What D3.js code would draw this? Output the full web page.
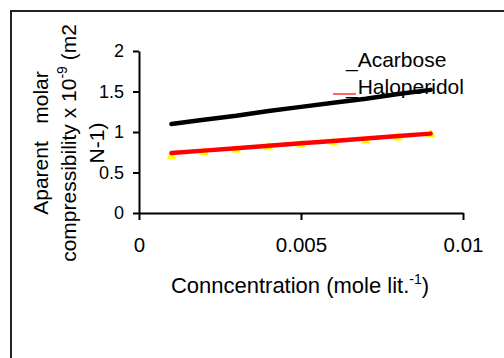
<!DOCTYPE html>
<html>
<head>
<meta charset="utf-8">
<script src="https://cdn.jsdelivr.net/npm/d3@7"></script>
<style>
    body { margin: 0; background: #fff; }
    svg { display: block; font-family: "Liberation Sans", Arial, sans-serif; }
</style>
</head>
<body>
<svg id="chart" width="504" height="358"></svg>
<script>
// values
var concentration = [0.001, 0.002, 0.003, 0.004, 0.005, 0.006, 0.007, 0.008, 0.009];
var acarbose = [1.10, 1.15, 1.20, 1.26, 1.31, 1.36, 1.41, 1.47, 1.52];
var haloperidol = [0.74, 0.77, 0.80, 0.83, 0.86, 0.89, 0.92, 0.95, 0.98];
var haloMarkers = [0.70, 0.75, 0.78, 0.81, 0.84, 0.87, 0.89, 0.93, 0.97];
var xTicks = [0, 0.005, 0.01];
var yTicks = [0, 0.5, 1, 1.5, 2];
var seriesNames = ["Acarbose", "Haloperidol"];

var svg = d3.select("#chart");

// outer frame (runs off the right and bottom edges)
svg.append("rect")
    .attr("x", 11).attr("y", 11)
    .attr("width", 500).attr("height", 400)
    .attr("fill", "none")
    .attr("stroke", "#222")
    .attr("stroke-width", 2);

var x = d3.scaleLinear().domain([0, 0.01]).range([139, 463]);
var y = d3.scaleLinear().domain([0, 2]).range([213, 51]);

var xAxis = svg.append("g")
    .attr("transform", "translate(0," + y(0) + ")")
    .call(d3.axisBottom(x).tickValues(xTicks).tickSize(7).tickSizeOuter(0).tickPadding(17)
        .tickFormat(function (d) { return String(d); }));

var yAxis = svg.append("g")
    .attr("transform", "translate(" + x(0) + ",0)")
    .call(d3.axisLeft(y).tickValues(yTicks).tickSize(6).tickSizeOuter(0).tickPadding(9)
        .tickFormat(function (d) { return String(d); }));

xAxis.selectAll("path, line").attr("stroke", "#000").attr("stroke-width", 2);
yAxis.selectAll("path, line").attr("stroke", "#000").attr("stroke-width", 2);
xAxis.selectAll("text").attr("font-size", 20.5).attr("fill", "#000").attr("font-family", null);
yAxis.selectAll("text").attr("font-size", 18).attr("fill", "#000").attr("font-family", null);

// x axis title
var xt = svg.append("text")
    .attr("x", 300).attr("y", 293)
    .attr("text-anchor", "middle")
    .attr("font-size", 22)
    .attr("fill", "#000");
xt.append("tspan").text("Conncentration (mole lit.");
xt.append("tspan").attr("dy", -9).attr("font-size", 14).text("-1");
xt.append("tspan").attr("dy", 9).text(")");

// y axis title, three rotated lines
var yTitle = svg.append("g")
    .attr("transform", "translate(0,143) rotate(-90)")
    .attr("font-size", 21)
    .attr("fill", "#000")
    .attr("text-anchor", "middle");

yTitle.append("text")
    .attr("x", 0).attr("y", 48)
    .attr("xml:space", "preserve")
    .style("white-space", "pre")
    .text("Aparent   molar");

var l2 = yTitle.append("text").attr("x", 0).attr("y", 76);
l2.append("tspan").text("compressibility x 10");
l2.append("tspan").attr("dy", -9).attr("font-size", 14).text("-9");
l2.append("tspan").attr("dy", 9).text(" (m2");

yTitle.append("text")
    .attr("x", 0).attr("y", 104)
    .text("N-1)");

// legend
var legend = svg.append("g").attr("font-size", 21).attr("fill", "#000");
legend.selectAll("text")
    .data(seriesNames)
    .enter().append("text")
    .attr("x", 346)
    .attr("y", function (d, i) { return 67 + i * 27; })
    .text(function (d) { return "_" + d; });

legend.append("line")
    .attr("x1", 333).attr("x2", 356)
    .attr("y1", 94).attr("y2", 94)
    .attr("stroke", "#ff0000")
    .attr("stroke-width", 1.2);

// haloperidol markers sit under the line
var tri = d3.symbol().type(d3.symbolTriangle).size(42);
svg.append("g").selectAll("path")
    .data(concentration)
    .enter().append("path")
    .attr("d", tri)
    .attr("transform", function (d, i) {
        return "translate(" + x(d) + "," + y(haloMarkers[i]) + ")";
    })
    .attr("fill", "#ffff00");

var line = d3.line()
    .x(function (d) { return x(d[0]); })
    .y(function (d) { return y(d[1]); });

svg.append("path")
    .datum(d3.zip(concentration, haloperidol))
    .attr("d", line)
    .attr("fill", "none")
    .attr("stroke", "#ff0000")
    .attr("stroke-width", 4.5)
    .attr("stroke-linecap", "round");

svg.append("path")
    .datum(d3.zip(concentration, acarbose))
    .attr("d", line)
    .attr("fill", "none")
    .attr("stroke", "#000")
    .attr("stroke-width", 4.5)
    .attr("stroke-linecap", "round");
</script>
</body>
</html>
